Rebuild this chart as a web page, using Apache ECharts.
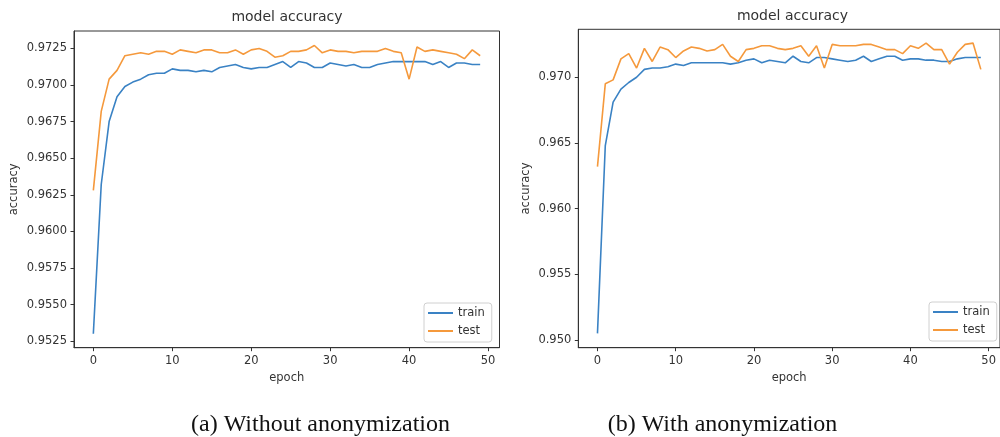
<!DOCTYPE html>
<html>
<head>
<meta charset="utf-8">
<script src="https://cdn.jsdelivr.net/npm/echarts@6/dist/echarts.min.js"></script>
<style>
  html, body { margin: 0; padding: 0; background: #fff; }
  #main { width: 1000px; height: 437px; }
</style>
</head>
<body>
<div id="main"></div>
<script>
var epochs = [0,1,2,3,4,5,6,7,8,9,10,11,12,13,14,15,16,17,18,19,20,21,22,23,24,
              25,26,27,28,29,30,31,32,33,34,35,36,37,38,39,40,41,42,43,44,45,46,47,48,49];

// (a) without anonymization
var trainA = [0.9530,0.9632,0.9675,0.9692,0.9699,0.9702,0.9704,0.9707,0.9708,0.9708,
              0.9711,0.9710,0.9710,0.9709,0.9710,0.9709,0.9712,0.9713,0.9714,0.9712,
              0.9711,0.9712,0.9712,0.9714,0.9716,0.9712,0.9716,0.9715,0.9712,0.9712,
              0.9715,0.9714,0.9713,0.9714,0.9712,0.9712,0.9714,0.9715,0.9716,0.9716,
              0.9716,0.9716,0.9716,0.9714,0.9716,0.9712,0.9715,0.9715,0.9714,0.9714];
var testA  = [0.9628,0.9682,0.9704,0.9710,0.9720,0.9721,0.9722,0.9721,0.9723,0.9723,
              0.9721,0.9724,0.9723,0.9722,0.9724,0.9724,0.9722,0.9722,0.9724,0.9721,
              0.9724,0.9725,0.9723,0.9719,0.9720,0.9723,0.9723,0.9724,0.9727,0.9722,
              0.9724,0.9723,0.9723,0.9722,0.9723,0.9723,0.9723,0.9725,0.9723,0.9722,
              0.9704,0.9726,0.9723,0.9724,0.9723,0.9722,0.9721,0.9718,0.9724,0.9720];

// (b) with anonymization
var trainB = [0.9505,0.9648,0.9681,0.9691,0.9696,0.9700,0.9706,0.9707,0.9707,0.9708,
              0.9710,0.9709,0.9711,0.9711,0.9711,0.9711,0.9711,0.9710,0.9711,0.9713,
              0.9714,0.9711,0.9713,0.9712,0.9711,0.9716,0.9712,0.9711,0.9715,0.9715,
              0.9714,0.9713,0.9712,0.9713,0.9716,0.9712,0.9714,0.9716,0.9716,0.9713,
              0.9714,0.9714,0.9713,0.9713,0.9712,0.9712,0.9714,0.9715,0.9715,0.9715];
var testB  = [0.9632,0.9695,0.9698,0.9714,0.9718,0.9707,0.9722,0.9712,0.9723,0.9721,
              0.9715,0.9720,0.9723,0.9722,0.9720,0.9721,0.9725,0.9716,0.9712,0.9721,
              0.9722,0.9724,0.9724,0.9722,0.9721,0.9722,0.9724,0.9716,0.9724,0.9707,
              0.9725,0.9724,0.9724,0.9724,0.9725,0.9725,0.9723,0.9721,0.9721,0.9718,
              0.9724,0.9722,0.9726,0.9721,0.9721,0.9710,0.9719,0.9725,0.9726,0.9706];

var xTicks = [0, 10, 20, 30, 40, 50];
var yTicksA = [0.9525, 0.9550, 0.9575, 0.9600, 0.9625, 0.9650, 0.9675, 0.9700, 0.9725];
var yTicksB = [0.950, 0.955, 0.960, 0.965, 0.970];

var font = 'DejaVu Sans';
var ink = '#333';
var blue = '#3a82c4';
var orange = '#f5993c';

function pairs(xs, ys) {
    var out = [];
    for (var i = 0; i < xs.length; i++) out.push([xs[i], ys[i]]);
    return out;
}

function xAxisFor(idx) {
    return {
        type: 'value', gridIndex: idx, min: -2.45, max: 51.45,
        name: 'epoch', nameLocation: 'middle', nameGap: 23,
        nameTextStyle: { fontFamily: font, fontSize: 11.5, color: ink },
        axisLine: { show: true, onZero: false, lineStyle: { color: ink, width: 1 } },
        axisTick: { show: true, length: 3.5, customValues: xTicks, lineStyle: { color: ink } },
        axisLabel: { customValues: xTicks, margin: 7, fontFamily: font, fontSize: 11.5, color: ink },
        splitLine: { show: false }
    };
}

function yAxisFor(idx, min, max, ticks, digits, gap) {
    return {
        type: 'value', gridIndex: idx, min: min, max: max,
        name: 'accuracy', nameLocation: 'middle', nameGap: gap,
        nameTextStyle: { fontFamily: font, fontSize: 11.5, color: ink },
        axisLine: { show: true, onZero: false, lineStyle: { color: ink, width: 1 } },
        axisTick: { show: true, length: 3.5, customValues: ticks, lineStyle: { color: ink } },
        axisLabel: {
            customValues: ticks, margin: 7, fontFamily: font, fontSize: 11.5, color: ink,
            formatter: function (v) { return v.toFixed(digits); }
        },
        splitLine: { show: false }
    };
}

function legendAt(left, top) {
    return {
        orient: 'vertical', left: left, top: top,
        data: ['train', 'test'],
        icon: 'rect', itemWidth: 25, itemHeight: 2, itemGap: 4,
        padding: [3, 7, 4, 4],
        borderColor: '#d0d0d0', borderWidth: 1, borderRadius: 3,
        backgroundColor: 'rgba(255,255,255,0.8)',
        textStyle: { fontFamily: font, fontSize: 11.5, color: ink, lineHeight: 14 },
        selectedMode: false
    };
}

function lineSeries(name, color, xi, data) {
    return {
        name: name, type: 'line', xAxisIndex: xi, yAxisIndex: xi,
        data: data, showSymbol: false, symbol: 'none',
        lineStyle: { color: color, width: 1.6 }, itemStyle: { color: color }
    };
}

var chart = echarts.init(document.getElementById('main'), null, { renderer: 'canvas' });

var option = {
    animation: false,
    backgroundColor: '#fff',
    grid: [
        { left: 74, top: 31, width: 425.5, height: 316.7, show: true, borderColor: ink, borderWidth: 1 },
        { left: 578.3, top: 29.3, width: 428.4, height: 318.4, show: true, borderColor: ink, borderWidth: 1 }
    ],
    xAxis: [xAxisFor(0), xAxisFor(1)],
    yAxis: [
        yAxisFor(0, 0.95205, 0.97369, yTicksA, 4, 54),
        yAxisFor(1, 0.94941, 0.97365, yTicksB, 3, 46)
    ],
    legend: [legendAt(424, 303), legendAt(929, 302)],
    graphic: [
        { type: 'text', x: 287, y: 17, style: { text: 'model accuracy', font: '14px "DejaVu Sans"', fill: ink, align: 'center', verticalAlign: 'middle' } },
        { type: 'text', x: 792.5, y: 16, style: { text: 'model accuracy', font: '14px "DejaVu Sans"', fill: ink, align: 'center', verticalAlign: 'middle' } },
        { type: 'text', x: 320.5, y: 425, style: { text: '(a) Without anonymization', font: '24px "Liberation Serif"', fill: '#111', align: 'center', verticalAlign: 'middle' } },
        { type: 'text', x: 722.5, y: 425, style: { text: '(b) With anonymization', font: '24px "Liberation Serif"', fill: '#111', align: 'center', verticalAlign: 'middle' } }
    ],
    series: [
        lineSeries('train', blue, 0, pairs(epochs, trainA)),
        lineSeries('test', orange, 0, pairs(epochs, testA)),
        lineSeries('train', blue, 1, pairs(epochs, trainB)),
        lineSeries('test', orange, 1, pairs(epochs, testB))
    ]
};

chart.setOption(option);
</script>
</body>
</html>
